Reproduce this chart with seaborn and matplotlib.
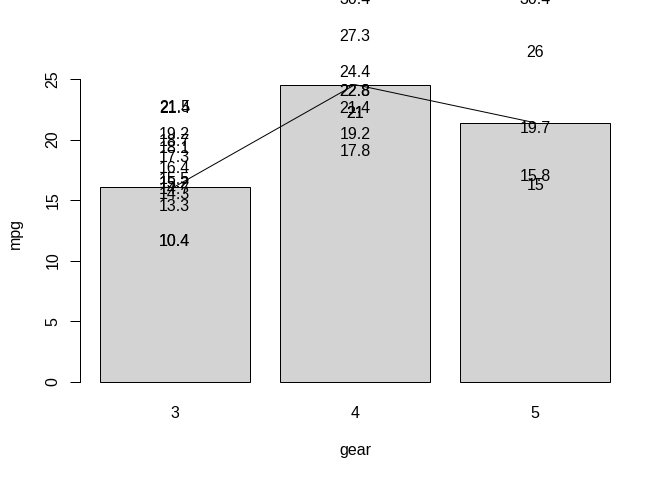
import pandas as pd
import matplotlib
matplotlib.use("Agg")
import matplotlib.pyplot as plt
import seaborn as sns

# mtcars: mpg and gear per car
mpg = [21.0, 21.0, 22.8, 21.4, 18.7, 18.1, 14.3, 24.4, 22.8, 19.2, 17.8,
       16.4, 17.3, 15.2, 10.4, 10.4, 14.7, 32.4, 30.4, 33.9, 21.5, 15.5,
       15.2, 13.3, 19.2, 27.3, 26.0, 30.4, 15.8, 19.7, 15.0, 21.4]
gear = [4, 4, 4, 3, 3, 3, 3, 4, 4, 4, 4,
        3, 3, 3, 3, 3, 3, 4, 4, 4, 3, 3,
        3, 3, 3, 4, 5, 5, 5, 5, 5, 4]
gear_levels = [3, 4, 5]

df = pd.DataFrame({"mpg": mpg, "gear": gear})

sns.set_style("white")
plt.rcParams['font.family'] = ['Liberation Sans', 'DejaVu Sans']
plt.rcParams['font.size'] = 12
plt.rcParams['text.color'] = 'black'
plt.rcParams['axes.labelcolor'] = 'black'
plt.rcParams['xtick.color'] = 'black'
plt.rcParams['ytick.color'] = 'black'

fig = plt.figure(figsize=(7, 5), dpi=96)
ax = fig.add_axes([79.6 / 672, (480 - 393.6) / 480, 550.8 / 672, 320.8 / 480])

# bars = mean mpg per gear
sns.barplot(data=df, x="gear", y="mpg", order=gear_levels, estimator="mean",
            errorbar=None, color="#D3D3D3", saturation=1, edgecolor="black",
            linewidth=0.75, width=1 / 1.2, ax=ax)

# line through the means
means = df.groupby("gear")["mpg"].mean().reindex(gear_levels)
ax.plot(range(len(gear_levels)), means.values, color="black", lw=0.75)

# one label per car, above its mpg value
for m, g in zip(mpg, gear):
    ax.annotate(f"{m:g}", (gear_levels.index(g), m), xytext=(0, 7.3),
                textcoords="offset points", ha="center", va="baseline",
                fontsize=12, color="black", annotation_clip=False)

ax.set_xlim(-0.5278, 2.5278)
ax.set_ylim(-0.981, 25.51)
ax.set_yticks([0, 5, 10, 15, 20, 25])
ax.set_xticks(range(len(gear_levels)))
ax.set_xticklabels([str(g) for g in gear_levels])

for s in ["top", "right", "bottom"]:
    ax.spines[s].set_visible(False)
ax.spines["left"].set_bounds(0, 25)
ax.spines["left"].set_color("black")
ax.spines["left"].set_linewidth(0.75)

ax.tick_params(axis="x", length=0, pad=9, labelsize=12, labelcolor="black")
ax.tick_params(axis="y", length=7.2, width=0.75, pad=7, labelsize=12,
               left=True, color="black", labelcolor="black")
for lab in ax.get_yticklabels():
    lab.set_rotation(90)
    lab.set_va("center")

ax.set_xlabel("gear", fontsize=12, va="baseline", color="black")
ax.xaxis.set_label_coords(0.5, -(455 - 393.6) / 320.8)
ax.set_ylabel("mpg", fontsize=12, ha="center", va="center", color="black")
ax.yaxis.set_label_coords((15.2 - 79.6) / 550.8, 0.5)

fig.savefig("out.png", dpi=96)
